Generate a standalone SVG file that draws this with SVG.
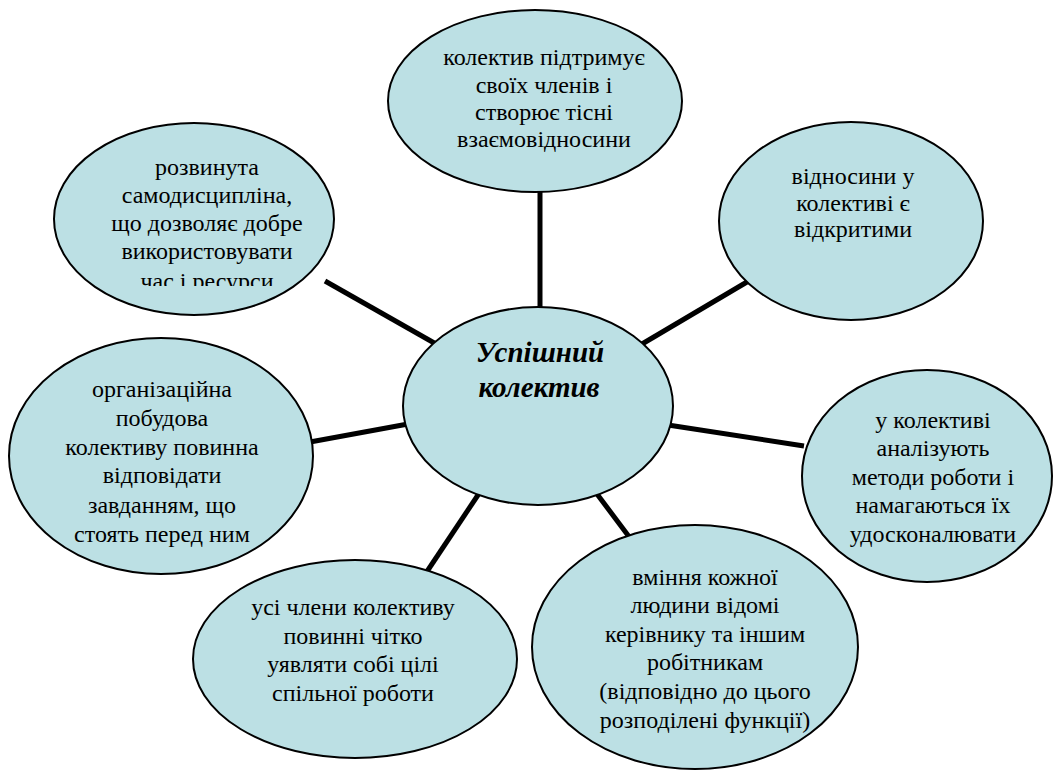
<svg xmlns="http://www.w3.org/2000/svg" width="1060" height="771" viewBox="0 0 1060 771">
<style>
.node{fill:#bce0e4;stroke:#000;stroke-width:2}
.t{font-family:'Liberation Serif','Times New Roman',Tinos,'Noto Serif','DejaVu Serif',FreeSerif,Times,serif;font-size:24px;fill:#000;text-anchor:middle}
.title{font-family:'Liberation Serif','Times New Roman',Tinos,'Noto Serif','DejaVu Serif',FreeSerif,Times,serif;font-size:29px;font-weight:bold;font-style:italic;fill:#000;text-anchor:middle}
.conn line{stroke:#000;stroke-width:5}
</style>
<defs>
<clipPath id="clipUL"><rect x="60" y="140" width="280" height="146"/></clipPath>
</defs>
<rect width="1060" height="771" fill="#fff"/>
<g id="connectors" class="conn">
<line x1="540" y1="190" x2="540" y2="310"/>
<line x1="325" y1="281" x2="436" y2="344"/>
<line x1="642" y1="344" x2="752" y2="279"/>
<line x1="668" y1="425" x2="804" y2="446"/>
<line x1="594" y1="490" x2="630" y2="538"/>
<line x1="484" y1="486" x2="426" y2="573"/>
<line x1="310" y1="442" x2="408" y2="424"/>
</g>
<g id="n-top">
<ellipse class="node" cx="535" cy="101" rx="147" ry="91"/>
<text class="t"><tspan x="544" y="65">колектив підтримує</tspan><tspan x="544" y="93">своїх членів і</tspan><tspan x="544" y="120">створює тісні</tspan><tspan x="544" y="147">взаємовідносини</tspan></text>
</g>
<g id="n-upper-left">
<ellipse class="node" cx="194" cy="219" rx="140" ry="96"/>
<text class="t" clip-path="url(#clipUL)"><tspan x="207" y="175">розвинута</tspan><tspan x="207" y="203">самодисципліна,</tspan><tspan x="207" y="231">що дозволяє добре</tspan><tspan x="207" y="259">використовувати</tspan><tspan x="207" y="289">час і ресурси</tspan></text>
</g>
<g id="n-upper-right">
<ellipse class="node" cx="851" cy="221" rx="132" ry="99"/>
<text class="t"><tspan x="853" y="184">відносини у</tspan><tspan x="853" y="211">колективі є</tspan><tspan x="853" y="237">відкритими</tspan></text>
</g>
<g id="n-center">
<ellipse class="node" cx="538" cy="406" rx="135" ry="99"/>
<text class="title"><tspan x="540" y="362">Успішний</tspan><tspan x="539" y="397">колектив</tspan></text>
</g>
<g id="n-right">
<ellipse class="node" cx="927" cy="476" rx="125" ry="106"/>
<text class="t"><tspan x="933" y="428">у колективі</tspan><tspan x="933" y="456">аналізують</tspan><tspan x="933" y="485">методи роботи і</tspan><tspan x="933" y="513">намагаються їх</tspan><tspan x="933" y="542">удосконалювати</tspan></text>
</g>
<g id="n-bottom-right">
<ellipse class="node" cx="695" cy="647" rx="163" ry="122"/>
<text class="t"><tspan x="705" y="585">вміння кожної</tspan><tspan x="705" y="613">людини відомі</tspan><tspan x="705" y="642">керівнику та іншим</tspan><tspan x="705" y="670">робітникам</tspan><tspan x="705" y="699">(відповідно до цього</tspan><tspan x="705" y="728">розподілені функції)</tspan></text>
</g>
<g id="n-bottom-left">
<ellipse class="node" cx="355" cy="659" rx="162" ry="99"/>
<text class="t"><tspan x="353" y="615">усі члени колективу</tspan><tspan x="353" y="644">повинні чітко</tspan><tspan x="353" y="672">уявляти собі цілі</tspan><tspan x="353" y="701">спільної роботи</tspan></text>
</g>
<g id="n-left">
<ellipse class="node" cx="161" cy="456" rx="152" ry="118"/>
<text class="t"><tspan x="162" y="397">організаційна</tspan><tspan x="162" y="426">побудова</tspan><tspan x="162" y="455">колективу повинна</tspan><tspan x="162" y="483">відповідати</tspan><tspan x="162" y="513">завданням, що</tspan><tspan x="162" y="542">стоять перед ним</tspan></text>
</g>
</svg>
